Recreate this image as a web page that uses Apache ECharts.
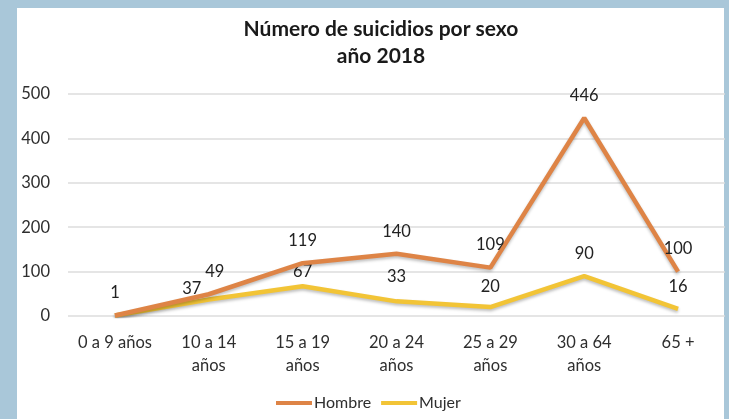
<!DOCTYPE html>
<html><head><meta charset="utf-8">
<script src="https://cdn.jsdelivr.net/npm/echarts@6/dist/echarts.min.js"></script>
<style>html,body{margin:0;padding:0;background:#A9C7D9;}#c{width:729px;height:419px;}</style>
</head><body><div id="c"></div>
<script>
const categories = ['0 a 9 años', '10 a 14\naños', '15 a 19\naños', '20 a 24\naños', '25 a 29\naños', '30 a 64\naños', '65 +'];
const hombre = [1, 49, 119, 140, 109, 446, 100];
const mujer = [1, 37, 67, 33, 20, 90, 16];
const yTicks = { min: 0, max: 500, interval: 100 };

const chart = echarts.init(document.getElementById('c'), null, {renderer: 'canvas'});
const font = 'Lato, "Open Sans", sans-serif';
const txt = '#2e2e2e';
const mujerOffsets = { 1: [-17, 12], 2: [0, 8], 3: [0, -2], 4: [0, 2] };
const mujerData = mujer.map((v, i) => {
  if (i === 0) return { value: v, label: { show: false } };
  if (mujerOffsets[i]) return { value: v, label: { offset: mujerOffsets[i] } };
  return v;
});
const hombreData = hombre.map((v, i) => {
  if (i === 1) return { value: v, label: { offset: [6, 0] } };
  return v;
});
chart.setOption({
  backgroundColor: '#A9C7D9',
  graphic: [{ type: 'rect', shape: { x: 17, y: 8, width: 707, height: 420 }, style: { fill: '#ffffff' }, z: -10 }],
  title: {
    text: 'Número de suicidios por sexo\naño 2018',
    left: 376, textAlign: 'center', top: 11,
    textStyle: { fontFamily: font, fontSize: 21, fontWeight: 'bold', color: '#1a1a1a', lineHeight: 27 }
  },
  grid: { left: 68, right: 4, top: 94, bottom: 103 },
  xAxis: {
    type: 'category', data: categories, boundaryGap: true,
    axisLine: { show: false }, axisTick: { show: false },
    axisLabel: { fontFamily: font, fontSize: 16.5, color: txt, lineHeight: 23, margin: 15, interval: 0 }
  },
  yAxis: {
    type: 'value', min: yTicks.min, max: yTicks.max, interval: yTicks.interval,
    axisLine: { show: false }, axisTick: { show: false },
    axisLabel: { fontFamily: font, fontSize: 16.5, color: txt, margin: 18 },
    splitLine: { lineStyle: { color: '#dcdcdc', width: 1.5 } }
  },
  legend: {
    bottom: 3, left: 271, itemWidth: 36, itemHeight: 4, itemGap: 10,
    icon: 'rect',
    textStyle: { fontFamily: font, fontSize: 16, color: txt, padding: [0, 0, 0, -3] },
    data: ['Hombre', 'Mujer']
  },
  series: [
    {
      name: 'Hombre', type: 'line', data: hombreData, symbol: 'circle', symbolSize: 0.1, showSymbol: true, z: 3,
      lineStyle: { color: '#DE8446', width: 4.5, shadowColor: 'rgba(0,0,0,0.25)', shadowBlur: 3, shadowOffsetY: 2 },
      itemStyle: { color: '#DE8446' },
      label: { show: true, position: 'top', distance: 14, fontFamily: font, fontSize: 16.5, color: '#222' }
    },
    {
      name: 'Mujer', type: 'line', data: mujerData, symbol: 'circle', symbolSize: 0.1, showSymbol: true, z: 2,
      lineStyle: { color: '#F2C436', width: 4.5, shadowColor: 'rgba(0,0,0,0.25)', shadowBlur: 3, shadowOffsetY: 2 },
      itemStyle: { color: '#F2C436' },
      label: { show: true, position: 'top', distance: 14, fontFamily: font, fontSize: 16.5, color: '#222' }
    }
  ]
});
</script></body></html>
